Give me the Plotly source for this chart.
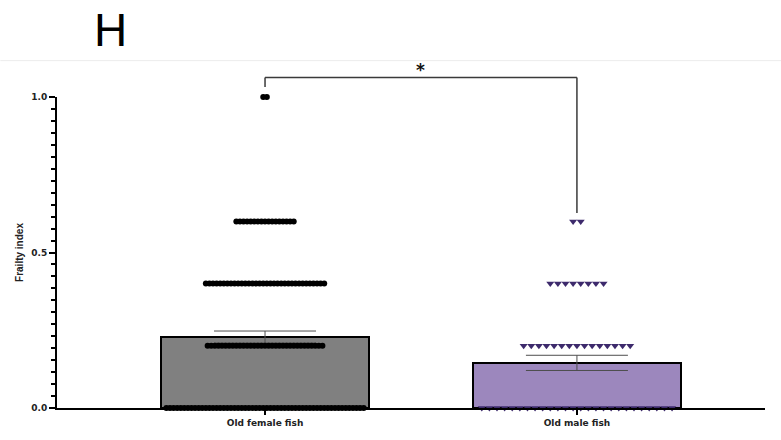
import numpy as np
import plotly.graph_objects as go

# Frailty index scores per group: score levels and how many fish scored each level
groups = ["Old female fish", "Old male fish"]
female_levels = [0.0, 0.2, 0.4, 0.6, 1.0]
female_counts = [56, 33, 34, 17, 2]
male_levels = [0.0, 0.2, 0.4, 0.6]
male_counts = [26, 15, 8, 2]

female_vals = np.repeat(female_levels, female_counts)
male_vals = np.repeat(male_levels, male_counts)


def mean_sem(v):
    return float(np.mean(v)), float(np.std(v, ddof=1) / np.sqrt(len(v)))


f_mean, f_sem = mean_sem(female_vals)
m_mean, m_sem = mean_sem(male_vals)


def row_swarm(levels, counts, center, step):
    """Spread tied values horizontally around the group centre."""
    xs, ys = [], []
    for lv, n in zip(levels, counts):
        for i in range(n):
            xs.append(center + (i - (n - 1) / 2) * step)
            ys.append(lv)
    return xs, ys


fx, fy = row_swarm(female_levels, female_counts, 0, 0.0115)
mx, my = row_swarm(male_levels, male_counts, 1, 0.0244)

X_RANGE = [-0.667, 1.603]


def xpaper(v):
    """Data x -> paper x, so the bracket can sit above the plotting area."""
    return (v - X_RANGE[0]) / (X_RANGE[1] - X_RANGE[0])


fig = go.Figure()

fig.add_trace(go.Bar(
    x=[0, 1], y=[f_mean, m_mean], width=0.667,
    marker=dict(color=["#808080", "#9c87bd"], line=dict(color="black", width=2)),
    error_y=dict(type="data", array=[f_sem, m_sem], color="#4d4d4d",
                 thickness=1, width=51),
    showlegend=False, hoverinfo="skip",
))

fig.add_trace(go.Scatter(
    x=fx, y=fy, mode="markers", cliponaxis=False, showlegend=False,
    marker=dict(symbol="circle", size=6, color="black"),
))
fig.add_trace(go.Scatter(
    x=mx, y=my, mode="markers", cliponaxis=False, showlegend=False,
    marker=dict(symbol="triangle-down", size=7, color="#3d2a6c"),
))

# significance bracket between the two groups (paper coords; y range is [0, 1])
bracket = dict(color="#3a3a3a", width=1.5)
xf, xm = xpaper(0), xpaper(1)
fig.add_shape(type="line", xref="paper", yref="paper",
              x0=xf, x1=xf, y0=1.032, y1=1.063, line=bracket)
fig.add_shape(type="line", xref="paper", yref="paper",
              x0=xf, x1=xm, y0=1.063, y1=1.063, line=bracket)
fig.add_shape(type="line", xref="paper", yref="paper",
              x0=xm, x1=xm, y0=1.063, y1=0.627, line=bracket)
fig.add_annotation(xref="paper", yref="paper", x=xpaper(0.497), y=1.087,
                   text="*", showarrow=False, yanchor="middle",
                   font=dict(size=17, color="#111", family="DejaVu Sans",
                             weight="bold"))

# panel letter
fig.add_annotation(xref="paper", yref="paper", x=0.076, y=1.215, text="H",
                   showarrow=False, xanchor="center", yanchor="middle",
                   font=dict(size=46, color="black", family="Liberation Sans"))

# faint panel border line
fig.add_shape(type="line", xref="paper", yref="paper", x0=-0.08, x1=1.03,
              y0=1.117, y1=1.117, line=dict(color="#ececec", width=1))

tick_font = dict(family="DejaVu Sans", size=9, color="#222", weight="bold")

fig.update_layout(
    width=781, height=440,
    margin=dict(l=57, r=16, t=97, b=27),
    paper_bgcolor="white", plot_bgcolor="white",
    bargap=0,
    xaxis=dict(
        range=X_RANGE, tickvals=[0, 1], ticktext=groups,
        showline=True, linecolor="black", linewidth=2,
        ticks="outside", ticklen=5, tickwidth=2, tickcolor="black",
        showgrid=False, zeroline=False, tickfont=tick_font,
    ),
    yaxis=dict(
        range=[0, 1], tickvals=[0, 0.5, 1.0], ticktext=["0.0", "0.5", "1.0"],
        showline=True, linecolor="black", linewidth=2,
        ticks="outside", ticklen=6, tickwidth=2, tickcolor="black",
        minor=dict(dtick=0.5 / 13, ticklen=4, tickwidth=1.5, tickcolor="black",
                   ticks="outside"),
        showgrid=False, zeroline=False, tickfont=tick_font,
        title=dict(text="Frailty index", standoff=6,
                   font=dict(family="Liberation Sans", size=10, color="#222",
                             weight="bold")),
        automargin=False,
    ),
)

fig.write_html("out.html")
